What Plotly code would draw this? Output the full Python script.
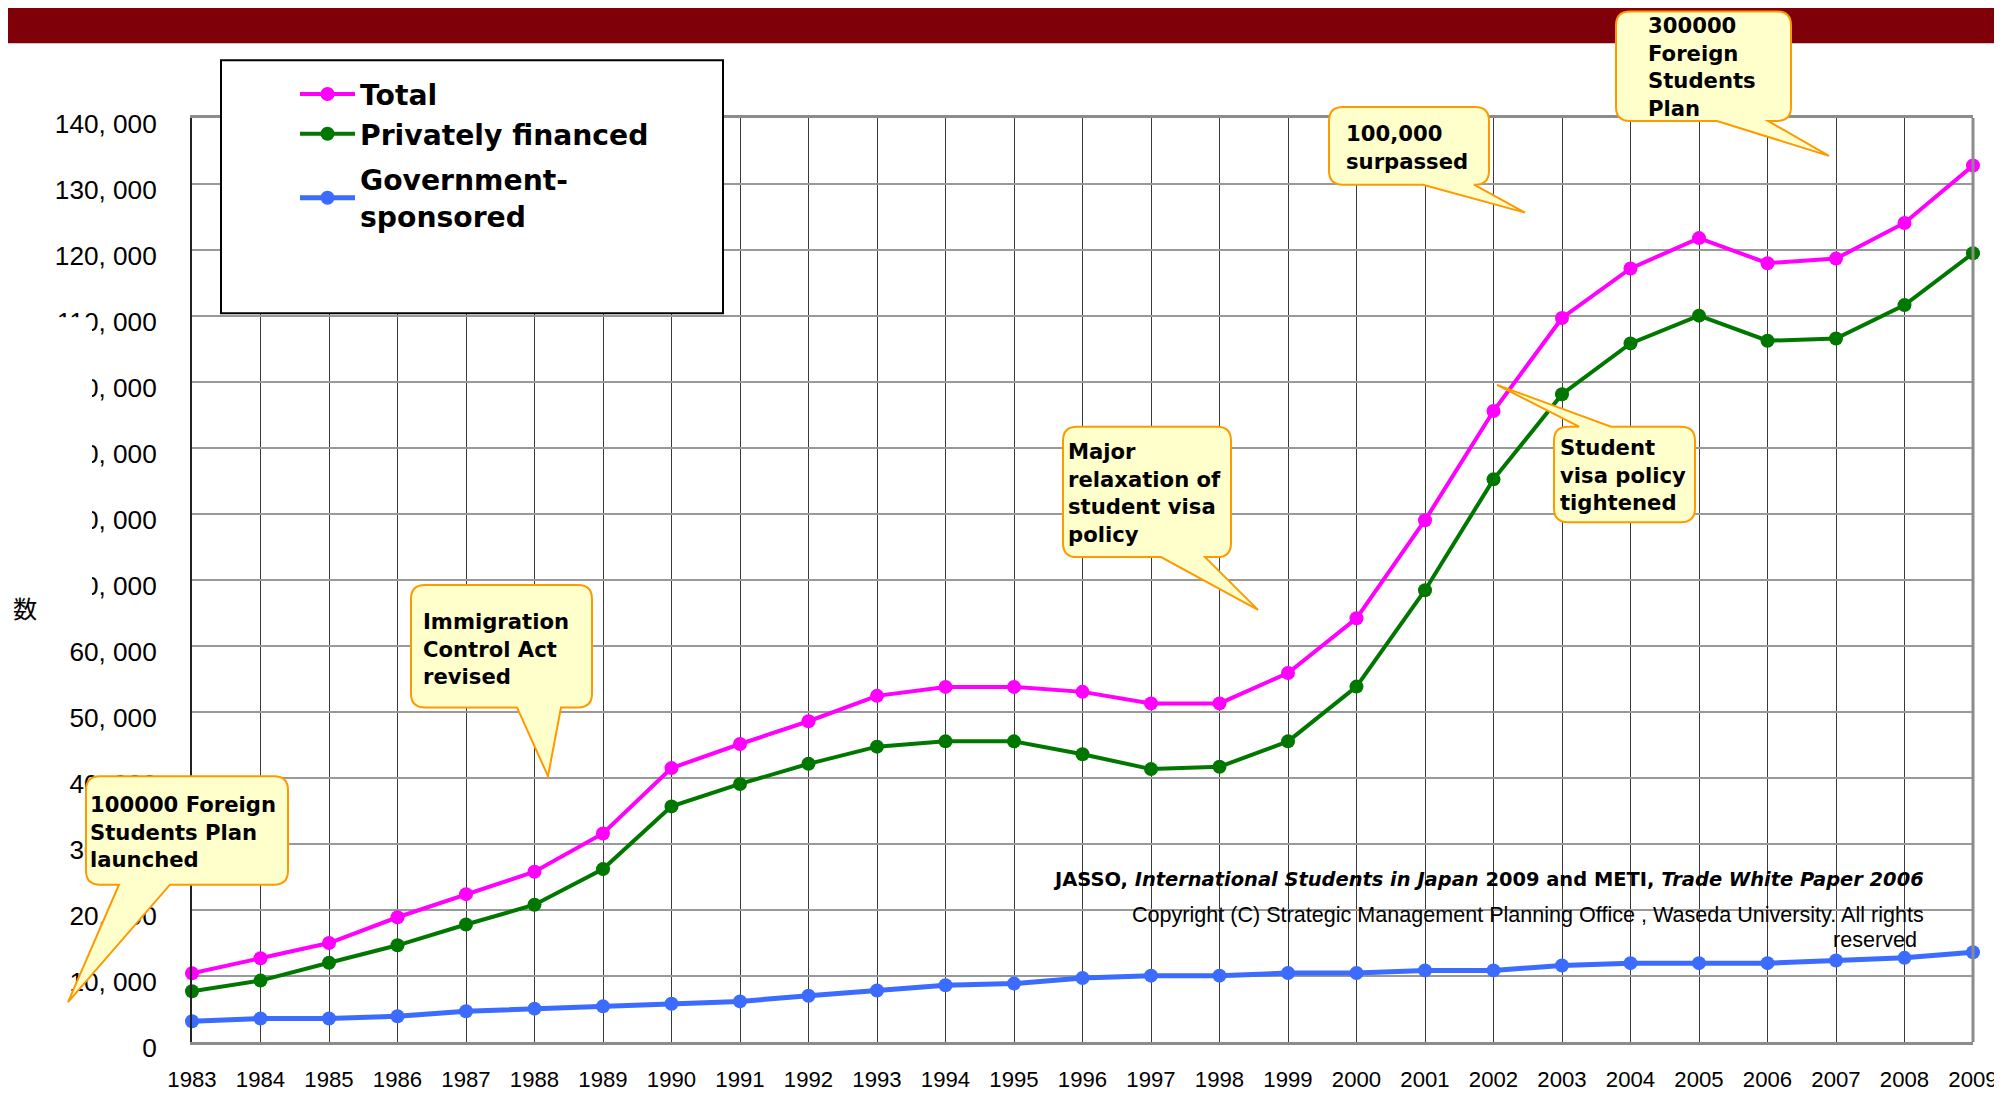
import plotly.graph_objects as go

years = list(range(1983, 2010))
total = [10400, 12700, 15000, 18900, 22400, 25800, 31600, 41500, 45150, 48600,
         52450, 53800, 53800, 53050, 51300, 51300, 55900, 64200, 79050, 95600,
         109700, 117200, 121800, 118000, 118700, 124100, 132800]
private = [7700, 9300, 12000, 14650, 17800, 20800, 26200, 35700, 39100, 42150,
           44750, 45550, 45550, 43600, 41350, 41700, 45550, 53850, 68450, 85250,
           98150, 105850, 110050, 106250, 106600, 111650, 119500]
government = [3150, 3550, 3550, 3900, 4650, 5050, 5400, 5800, 6150, 7000,
              7800, 8600, 8850, 9700, 10050, 10050, 10450, 10450, 10850, 10850,
              11600, 11950, 11950, 11950, 12350, 12750, 13600]
y_ticks = [0, 10000, 20000, 30000, 40000, 50000, 60000, 70000,
           80000, 90000, 100000, 110000, 120000, 130000, 140000]
y_labels = ["0", "10, 000", "20, 000", "30, 000", "40, 000", "50, 000", "60, 000", "70, 000",
            "80, 000", "90, 000", "100, 000", "110, 000", "120, 000", "130, 000", "140, 000"]

FW, FH = 2002, 1096
# the page is the figure plus the default 8px body margin, and the snapshot of
# that whole page is fitted back into the window, so place things accordingly
SX, SY = 2002 / 2010, 1096 / 1112


def fx(x):
    return x / SX - 8


def fy(y):
    return y / SY - 8


L, R, T, B = fx(191), fx(1972), fy(116), fy(1044)
W, H = R - L, B - T
K = 1.008  # font compensation for the fit


def px(x):
    return (fx(x) - L) / W


def py(y):
    return (B - fy(y)) / H


def pt(x, y):
    return f"{px(x):.5f},{py(y):.5f}"


def bubble(x0, y0, x1, y1, b1, b2, tip, side="bottom", r=14):
    # rounded box with a pointer, built in window pixels and turned into paper coords
    tx, ty = tip
    p = [f"M{pt(x0 + r, y0)}"]
    if side == "top":
        p += [f"L{pt(b1, y0)}", f"L{pt(tx, ty)}", f"L{pt(b2, y0)}"]
    p += [f"L{pt(x1 - r, y0)}", f"Q{pt(x1, y0)} {pt(x1, y0 + r)}",
          f"L{pt(x1, y1 - r)}", f"Q{pt(x1, y1)} {pt(x1 - r, y1)}"]
    if side == "bottom":
        p += [f"L{pt(b2, y1)}", f"L{pt(tx, ty)}", f"L{pt(b1, y1)}"]
    p += [f"L{pt(x0 + r, y1)}", f"Q{pt(x0, y1)} {pt(x0, y1 - r)}",
          f"L{pt(x0, y0 + r)}", f"Q{pt(x0, y0)} {pt(x0 + r, y0)}", "Z"]
    return " ".join(p)


callouts = [
    ((85, 777, 287, 886, 118, 169, (67, 1004), "bottom"), (87, 833), "100000 Foreign<br>Students Plan<br>launched"),
    ((410, 585, 591, 708, 516, 560, (547, 777), "bottom"), (420, 649), "Immigration<br>Control Act<br>revised"),
    ((1062, 426, 1230, 557, 1160, 1204, (1257, 610), "bottom"), (1065, 493), "Major<br>relaxation of<br>student visa<br>policy"),
    ((1553, 426, 1694, 522, 1578, 1610, (1496, 384), "top"), (1557, 475), "Student<br>visa policy<br>tightened"),
    ((1328, 105, 1488, 183, 1422, 1473, (1524, 211), "bottom"), (1343, 146), "100,000<br>surpassed"),
    ((1615, 9, 1790, 119, 1716, 1767, (1828, 154), "bottom"), (1645, 65), "300000<br>Foreign<br>Students<br>Plan"),
]

fig = go.Figure()
series = [("<b>Total</b>", total, "#FF00FF", 4, "a"),
          ("<b>Privately financed</b>", private, "#007800", 4, "a"),
          ("<b>Government-<br>sponsored</b>", government, "#3B6BFF", 5, "b")]
for name, vals, color, lw, grp in series:
    fig.add_trace(go.Scatter(x=years, y=vals, name=name, mode="lines+markers",
                             legendgroup=grp,
                             line=dict(color=color, width=lw),
                             marker=dict(color=color, size=14),
                             cliponaxis=False))

shapes = [
    # title banner
    dict(type="rect", xref="paper", yref="paper", x0=-0.2, x1=1.1, y0=py(41), y1=py(-20),
         fillcolor="#7F0008", line=dict(width=0), layer="above"),
    # right border
    dict(type="line", xref="paper", yref="paper", x0=1, x1=1, y0=0, y1=1,
         line=dict(color="#8c8c8c", width=3), layer="above"),
    # white patch over part of the y labels
    dict(type="rect", xref="paper", yref="paper", x0=px(0), x1=px(91), y0=py(600), y1=py(316),
         fillcolor="white", line=dict(width=0), layer="above"),
    # legend frame
    dict(type="rect", xref="paper", yref="paper", x0=px(220), x1=px(722), y0=py(312), y1=py(58),
         fillcolor="white", line=dict(color="black", width=2), layer="above"),
]
annotations = []
for (x0, y0, x1, y1, b1, b2, tip, side), (tx, ty), text in callouts:
    shapes.append(dict(type="path", xref="paper", yref="paper",
                       path=bubble(x0, y0, x1, y1, b1, b2, tip, side),
                       fillcolor="#FFFFCC", line=dict(color="#FF9900", width=2), layer="above"))
    annotations.append(dict(xref="paper", yref="paper", x=px(tx), y=py(ty), text=f"<b>{text}</b>",
                            xanchor="left", yanchor="middle", align="left", showarrow=False,
                            font=dict(family="DejaVu Sans", size=21 * K, color="black")))

annotations += [
    dict(xref="paper", yref="paper", x=px(1925), y=py(881), xanchor="right", yanchor="middle",
         showarrow=False, font=dict(family="DejaVu Sans", size=19.3 * K, color="black"),
         text="<b>JASSO, <i>International Students in Japan</i> 2009 and METI, <i>Trade White Paper 2006</i></b>"),
    dict(xref="paper", yref="paper", x=px(1925), y=py(916), xanchor="right", yanchor="middle",
         showarrow=False, font=dict(family="Liberation Sans", size=21.4 * K, color="black"),
         text="Copyright (C) Strategic Management Planning Office , Waseda University. All rights"),
    dict(xref="paper", yref="paper", x=px(1918), y=py(941), xanchor="right", yanchor="middle",
         showarrow=False, font=dict(family="Liberation Sans", size=21.4 * K, color="black"),
         text="reserved"),
    dict(xref="paper", yref="paper", x=px(24), y=py(608), xanchor="center", yanchor="middle",
         showarrow=False, font=dict(family="Noto Sans CJK JP", size=24 * K, color="black"), text="数"),
]

fig.update_layout(
    width=FW, height=FH,
    margin=dict(l=L, r=FW - R, t=T, b=FH - B),
    paper_bgcolor="white", plot_bgcolor="white",
    shapes=shapes, annotations=annotations,
    legend=dict(x=px(294), y=py(67), xanchor="left", yanchor="top",
                bgcolor="rgba(0,0,0,0)", borderwidth=0, itemwidth=55,
                traceorder="grouped", tracegroupgap=6,
                font=dict(family="DejaVu Sans", size=28 * K, color="black")),
    xaxis=dict(range=[1983, 2009], tickvals=years, ticktext=[str(y) for y in years],
               showgrid=True, gridcolor="#3a3a3a", gridwidth=1, zeroline=False,
               showline=True, linecolor="#8c8c8c", linewidth=3, mirror=True,
               ticks="outside", ticklen=0, ticklabelstandoff=15, ticklabeloverflow="allow",
               tickfont=dict(family="Liberation Sans", size=22 * K, color="black")),
    yaxis=dict(range=[0, 140000], tickvals=y_ticks, ticktext=y_labels,
               showgrid=True, gridcolor="#999999", gridwidth=2, zeroline=False,
               showline=True, linecolor="#222222", linewidth=2,
               ticks="outside", ticklen=0, ticklabelstandoff=28, ticklabelshift=6,
               tickfont=dict(family="Liberation Sans", size=26 * K, color="black")),
)

fig.write_html("out.html", config={"displayModeBar": False})
